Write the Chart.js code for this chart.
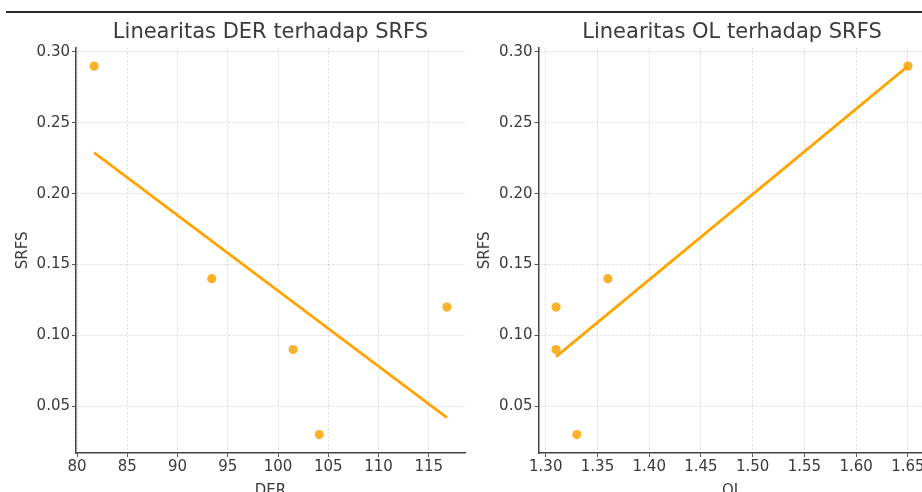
<!DOCTYPE html>
<html>
<head>
<meta charset="utf-8">
<script src="https://cdn.jsdelivr.net/npm/chart.js@4.4.1/dist/chart.umd.min.js"></script>
<style>
  html, body { margin: 0; padding: 0; background: #fff; overflow: hidden; width: 922px; height: 492px; }
  #topRule { position: absolute; left: 6px; top: 11px; width: 916px; height: 2px; background: #2a2a2a; }
  .panel { position: absolute; top: 0; }
</style>
</head>
<body>
<div id="topRule"></div>
<canvas id="derChart" class="panel" style="left:0px" width="470" height="505"></canvas>
<canvas id="olChart" class="panel" style="left:470px" width="470" height="505"></canvas>
<script>
// values
const derValues = [81.7, 93.4, 101.5, 104.1, 116.8];
const srfsDer = [0.29, 0.14, 0.09, 0.03, 0.12];
const olValues = [1.31, 1.31, 1.33, 1.36, 1.65];
const srfsOl = [0.12, 0.09, 0.03, 0.14, 0.29];

// fitted line end points (as drawn)
const derFitX = [81.7, 116.8];
const derFitY = [0.229, 0.042];
const olFitX = [1.31, 1.65];
const olFitY = [0.085, 0.29];

// tick labels
const derTicks = [80, 85, 90, 95, 100, 105, 110, 115];
const olTicks = [1.30, 1.35, 1.40, 1.45, 1.50, 1.55, 1.60, 1.65];
const srfsTicks = [0.05, 0.10, 0.15, 0.20, 0.25, 0.30];

const textColor = '#3a3a3a';
const dotColor = '#FBB12A';
const lineColor = '#FFA500';
const font = 'DejaVu Sans';

const toPoints = (xs, ys) => xs.map((x, i) => ({ x: x, y: ys[i] }));

// builds one scatter + fit line panel
const makePanel = (id, cfg) => {
    const ctx = document.getElementById(id).getContext('2d');
    return new Chart(ctx, {
        type: 'scatter',
        data: {
            datasets: [
                {
                    type: 'line',
                    data: toPoints(cfg.fitX, cfg.fitY),
                    borderColor: lineColor,
                    borderWidth: 2.8,
                    pointRadius: 0,
                    fill: false,
                    order: 0,
                },
                {
                    data: toPoints(cfg.xs, cfg.ys),
                    backgroundColor: dotColor,
                    borderWidth: 0,
                    pointRadius: 4.6,
                    order: 1,
                },
            ],
        },
        options: {
            responsive: false,
            animation: false,
            devicePixelRatio: 1,
            layout: { padding: { left: 0, right: cfg.padRight, top: 0, bottom: 0 } },
            plugins: {
                legend: { display: false },
                tooltip: { enabled: false },
                title: {
                    display: true,
                    text: cfg.title,
                    fullSize: false,
                    color: textColor,
                    font: { family: font, size: 21, weight: 'normal' },
                    padding: { top: 20, bottom: 2.5 },
                },
            },
            scales: {
                x: {
                    type: 'linear',
                    min: cfg.xMin,
                    max: cfg.xMax,
                    afterBuildTicks: (scale) => { scale.ticks = cfg.xTicks.map(v => ({ value: v })); },
                    afterFit: (scale) => { scale.height = 52; },
                    ticks: {
                        color: textColor,
                        font: { family: font, size: 15 },
                        padding: 1,
                        maxRotation: 0,
                        callback: cfg.xFormat,
                    },
                    grid: {
                        color: 'rgba(0,0,0,0.16)',
                        tickColor: '#444',
                        tickLength: 4,
                        lineWidth: 0.9,
                    },
                    border: { color: '#444', width: 1.5, dash: [2, 2] },
                    title: {
                        display: true,
                        text: cfg.xLabel,
                        color: textColor,
                        font: { family: font, size: 15 },
                        padding: { top: 0, bottom: 4.5 },
                    },
                },
                y: {
                    type: 'linear',
                    min: 0.017,
                    max: 0.303,
                    afterBuildTicks: (scale) => { scale.ticks = srfsTicks.map(v => ({ value: v })); },
                    afterFit: (scale) => { scale.width = cfg.yWidth; },
                    ticks: {
                        color: textColor,
                        font: { family: font, size: 15 },
                        padding: 2,
                        callback: (v) => v.toFixed(2),
                    },
                    grid: {
                        color: 'rgba(0,0,0,0.16)',
                        tickColor: '#444',
                        tickLength: 4,
                        lineWidth: 0.9,
                    },
                    border: { color: '#444', width: 1.5, dash: [2, 2] },
                    title: {
                        display: true,
                        text: 'SRFS',
                        color: textColor,
                        font: { family: font, size: 15 },
                        padding: { top: cfg.yTitlePad, bottom: 0 },
                    },
                },
            },
        },
    });
};

makePanel('derChart', {
    title: 'Linearitas DER terhadap SRFS',
    xs: derValues, ys: srfsDer,
    fitX: derFitX, fitY: derFitY,
    xTicks: derTicks, xMin: 79.9, xMax: 118.6,
    xFormat: (v) => String(v),
    xLabel: 'DER',
    yWidth: 76, yTitlePad: 14, padRight: 5,
});

makePanel('olChart', {
    title: 'Linearitas OL terhadap SRFS',
    xs: olValues, ys: srfsOl,
    fitX: olFitX, fitY: olFitY,
    xTicks: olTicks, xMin: 1.293, xMax: 1.667,
    xFormat: (v) => v.toFixed(2),
    xLabel: 'OL',
    yWidth: 68.5, yTitlePad: 6, padRight: 14.5,
});
</script>
</body>
</html>
